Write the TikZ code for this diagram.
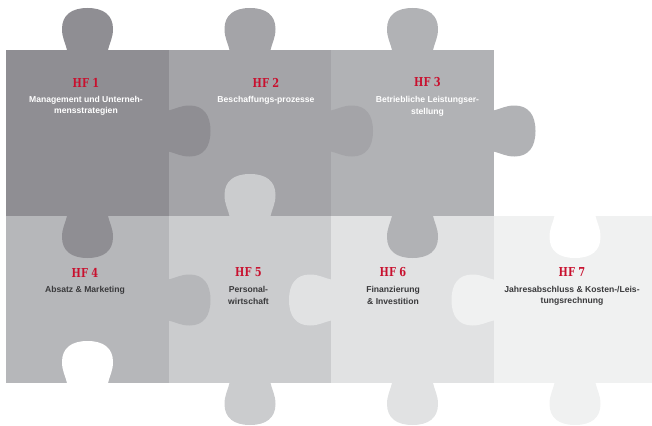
\documentclass[tikz,border=0pt]{standalone}
\usepackage{fontspec}
\usepackage{graphicx}
\newfontfamily\subfont{Liberation Sans}
\newfontfamily\hffont{DejaVu Serif}
\usetikzlibrary{positioning}
\definecolor{pA}{HTML}{8F8E93}
\definecolor{pB}{HTML}{A4A4A8}
\definecolor{pC}{HTML}{B1B2B5}
\definecolor{pD}{HTML}{B6B7BA}
\definecolor{pE}{HTML}{CBCCCE}
\definecolor{pF}{HTML}{E1E2E3}
\definecolor{pG}{HTML}{F0F1F1}
\definecolor{hfred}{HTML}{C8102E}
\definecolor{txtgray}{HTML}{3A3A3C}
\newcommand\schmal[1]{\scalebox{0.8}[1]{#1}}
\begin{document}
\begin{tikzpicture}[x=1pt, y=-1pt, line join=round,
		knob/.pic={\path[pic actions] (-20.5,1)--(-20.5,0) .. controls (-22,-7) and (-25.5,-12) .. (-25.5,-21)
			.. controls (-25.5,-35) and (-16,-42) .. (0,-42) .. controls (16,-42) and (25.5,-35) .. (25.5,-21)
			.. controls (25.5,-12) and (22,-7) .. (20.5,0)--(20.5,1)--cycle;},
		hf/.style={inner sep=0pt, text=hfred, font=\hffont\bfseries\fontsize{12.3}{12.3}\selectfont},
		oben/.style={inner sep=0pt, align=center, text=white, font=\subfont\bfseries\fontsize{8.6}{11.8}\selectfont},
		unten/.style={oben, text=txtgray}]
	\useasboundingbox (0,0) rectangle (652,425);
	% Felder
	\fill[pA] (6,50) rectangle (168.5,216);
	\fill[pB] (168.5,50) rectangle (331,216);
	\fill[pC] (331,50) rectangle (493.5,216);
	\fill[pD] (6,216) rectangle (168.5,383);
	\fill[pE] (168.5,216) rectangle (331,383);
	\fill[pF] (331,216) rectangle (493.5,383);
	\fill[pG] (493.5,216) rectangle (652,383);
	%=== Nasen oben
	\path (87.5,50) pic[fill=pA]{knob} (250,50) pic[fill=pB]{knob} (412.5,50) pic[fill=pC]{knob};
	\path (168.5,131) pic[fill=pA,rotate=-90]{knob} (331,131) pic[fill=pB,rotate=-90]{knob} (493.5,131) pic[fill=pC,rotate=-90]{knob};
	\path (87.5,216) pic[fill=pA,rotate=180]{knob} (250,216) pic[fill=pE]{knob} (412.5,216) pic[fill=pC,rotate=180]{knob} (575,216) pic[fill=white,rotate=180]{knob};
	%=== Nasen unten
	\path (168.5,300) pic[fill=pD,rotate=-90]{knob} (331,300) pic[fill=pF,rotate=90]{knob} (493.5,300) pic[fill=pG,rotate=90]{knob};
	\path (87.5,383) pic[fill=white]{knob} (250,383) pic[fill=pE,rotate=180]{knob} (412.5,383) pic[fill=pF,rotate=180]{knob} (575,383) pic[fill=pG,rotate=180]{knob};
	%=== Texte
	\node[hf] (hf1) at (86,82.5) {\schmal{HF 1}};
	\node[oben, below=8.5pt of hf1] (t1) {Management und Unterneh-\\mensstrategien};
	\node[hf] (hf2) at (266,82.5) {\schmal{HF 2}};
	\node[oben, below=8.5pt of hf2] (t2) {Beschaffungs-prozesse};
	\node[hf] (hf3) at (427.5,82.5) {\schmal{HF 3}};
	\node[oben, below=8.5pt of hf3] (t3) {Betriebliche Leistungser-\\stellung};
	\node[hf] (hf4) at (85,272.5) {\schmal{HF 4}};
	\node[unten, below=8.5pt of hf4] (t4) {Absatz \& Marketing};
	\node[hf] (hf5) at (248.5,272.5) {\schmal{HF 5}};
	\node[unten, below=8.5pt of hf5] (t5) {Personal-\\wirtschaft};
	\node[hf] (hf6) at (393,272.5) {\schmal{HF 6}};
	\node[unten, below=8.5pt of hf6] (t6) {Finanzierung\\\& Investition};
	\node[hf] (hf7) at (572,272.5) {\schmal{HF 7}};
	\node[unten, below=8.5pt of hf7] (t7) {Jahresabschluss \& Kosten-/Leis-\\tungsrechnung};
\end{tikzpicture}
\end{document}
